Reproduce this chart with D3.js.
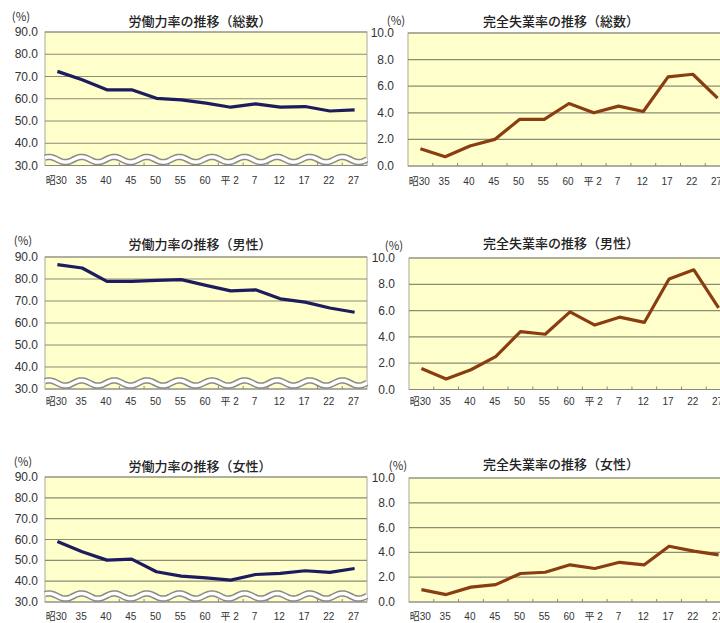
<html>
<head>
<meta charset="utf-8">
<script src="https://d3js.org/d3.v7.min.js"></script>
<style>
  body { margin: 0; background: #fff; }
</style>
</head>
<body>
<div id="my_dataviz"></div>
<script>
// categories (年次)
var categories = ["昭30", "35", "40", "45", "50", "55", "60", "平 2", "7", "12", "17", "22", "27"];

// 労働力率 (%)
var laborTotal  = [72.3, 68.5, 64.0, 64.0, 60.2, 59.5, 58.0, 56.2, 57.7, 56.2, 56.5, 54.5, 55.0];
var laborMale   = [86.5, 85.0, 78.9, 78.9, 79.4, 79.7, 77.1, 74.6, 75.1, 71.0, 69.5, 66.8, 64.9];
var laborFemale = [59.0, 54.1, 50.1, 50.6, 44.5, 42.4, 41.6, 40.5, 43.2, 43.7, 45.0, 44.2, 46.1];

// 完全失業率 (%)
var unempTotal  = [1.3, 0.7, 1.5, 2.0, 3.5, 3.5, 4.7, 4.0, 4.5, 4.1, 6.7, 6.9, 5.1];
var unempMale   = [1.6, 0.8, 1.5, 2.5, 4.4, 4.2, 5.9, 4.9, 5.5, 5.1, 8.4, 9.1, 6.2];
var unempFemale = [1.0, 0.6, 1.2, 1.4, 2.3, 2.4, 3.0, 2.7, 3.2, 3.0, 4.5, 4.1, 3.8];

var laborTicks = [30, 40, 50, 60, 70, 80, 90];
var unempTicks = [0, 2, 4, 6, 8, 10];

var svg = d3.select("#my_dataviz")
  .append("svg")
    .attr("width", 720)
    .attr("height", 623);

var plotWidth = 322;
var fmt = d3.format(".1f");

function drawPanel(p) {
  var x = d3.scaleBand().domain(categories).range([p.left, p.left + plotWidth]);
  var y = d3.scaleLinear().domain(d3.extent(p.ticks)).range([p.bottom, p.top]);
  var g = svg.append("g");

  // plot background
  g.append("rect")
    .attr("x", p.left).attr("y", p.top)
    .attr("width", plotWidth).attr("height", p.bottom - p.top)
    .attr("fill", "#ffffcc")
    .attr("stroke", "#a8a8a0");

  // gridlines
  g.selectAll(".grid").data(p.ticks).enter()
    .append("line")
      .attr("x1", p.left).attr("x2", p.left + plotWidth)
      .attr("y1", function (d) { return y(d); })
      .attr("y2", function (d) { return y(d); })
      .attr("stroke", function (d, i) { return i == 0 ? "#888880" : "#8c8c74"; })
      .attr("stroke-width", 1.2);

  // y tick labels
  g.selectAll(".ylab").data(p.ticks).enter()
    .append("text")
      .attr("x", p.labelX)
      .attr("y", function (d) { return y(d); })
      .attr("text-anchor", "end")
      .attr("dominant-baseline", "central")
      .style("font-family", "Liberation Sans, Arial, sans-serif")
      .style("font-size", "12px")
      .attr("fill", "#333")
      .text(function (d) { return fmt(d); });

  // small ticks on x axis at band boundaries
  g.selectAll(".xtick").data(categories.slice(1)).enter()
    .append("line")
      .attr("x1", function (d) { return x(d); })
      .attr("x2", function (d) { return x(d); })
      .attr("y1", p.bottom).attr("y2", p.bottom - 3)
      .attr("stroke", "#888880");

  // axis break (wave) for the labor charts
  if (p.wave) {
    var pts = d3.range(p.left, p.left + plotWidth + 1, 1).map(function (px) {
      return [px, p.bottom - 6 - 2.6 * Math.cos(2 * Math.PI * (px - p.left - 4) / 32.6)];
    });
    var wave = d3.line();
    g.append("path").attr("d", wave(pts))
      .attr("fill", "none").attr("stroke", "#8a8a86").attr("stroke-width", 6.5);
    g.append("path").attr("d", wave(pts))
      .attr("fill", "none").attr("stroke", "#ffffff").attr("stroke-width", 3.5);
  }

  // data line
  var line = d3.line()
    .x(function (d, i) { return x(categories[i]) + x.bandwidth() / 2; })
    .y(function (d) { return y(d); });
  g.append("path")
    .datum(p.values)
    .attr("d", line)
    .attr("fill", "none")
    .attr("stroke", p.color)
    .attr("stroke-width", 3.2)
    .attr("stroke-linejoin", "round");

  // x labels
  g.selectAll(".xlab").data(categories).enter()
    .append("text")
      .attr("x", function (d) { return x(d) + x.bandwidth() / 2 - 1; })
      .attr("y", p.bottom + p.xlabDy)
      .attr("text-anchor", "middle")
      .attr("dominant-baseline", "central")
      .style("font-family", "Liberation Sans, 'Noto Sans CJK JP', sans-serif")
      .style("font-size", "10px")
      .attr("fill", "#333")
      .text(function (d) { return d; });

  // title
  g.append("text")
    .attr("x", p.titleX).attr("y", p.titleY)
    .attr("text-anchor", "middle")
    .attr("dominant-baseline", "central")
    .style("font-family", "'Noto Sans CJK JP', sans-serif")
    .style("font-size", "13px")
    .style("font-weight", "500")
    .attr("fill", "#222")
    .text(p.title);

  // unit
  g.append("text")
    .attr("x", p.unitX).attr("y", p.unitY)
    .attr("text-anchor", "middle")
    .attr("dominant-baseline", "central")
    .style("font-family", "'Noto Sans CJK JP', sans-serif")
    .style("font-size", "11.5px")
    .attr("fill", "#333")
    .text("(%)");
}

var navy = "#1c1c5e";
var brown = "#8b3d12";

drawPanel({left: 45, top: 32, bottom: 165.5, ticks: laborTicks, values: laborTotal, color: navy, wave: true,
  labelX: 38, xlabDy: 15, title: "労働力率の推移（総数）", titleX: 200, titleY: 20, unitX: 21, unitY: 16});
drawPanel({left: 408, top: 33, bottom: 166, ticks: unempTicks, values: unempTotal, color: brown, wave: false,
  labelX: 394, xlabDy: 15, title: "完全失業率の推移（総数）", titleX: 561, titleY: 20, unitX: 396, unitY: 20});

drawPanel({left: 45, top: 257, bottom: 389, ticks: laborTicks, values: laborMale, color: navy, wave: true,
  labelX: 38, xlabDy: 12, title: "労働力率の推移（男性）", titleX: 200, titleY: 243, unitX: 23, unitY: 240});
drawPanel({left: 409, top: 258, bottom: 389.5, ticks: unempTicks, values: unempMale, color: brown, wave: false,
  labelX: 395, xlabDy: 12, title: "完全失業率の推移（男性）", titleX: 561, titleY: 242, unitX: 394, unitY: 245});

drawPanel({left: 45, top: 477, bottom: 602, ticks: laborTicks, values: laborFemale, color: navy, wave: true,
  labelX: 38, xlabDy: 14, title: "労働力率の推移（女性）", titleX: 200, titleY: 465, unitX: 23, unitY: 461});
drawPanel({left: 409, top: 478, bottom: 602, ticks: unempTicks, values: unempFemale, color: brown, wave: false,
  labelX: 395, xlabDy: 14, title: "完全失業率の推移（女性）", titleX: 561, titleY: 463, unitX: 398, unitY: 465});
</script>
</body>
</html>
